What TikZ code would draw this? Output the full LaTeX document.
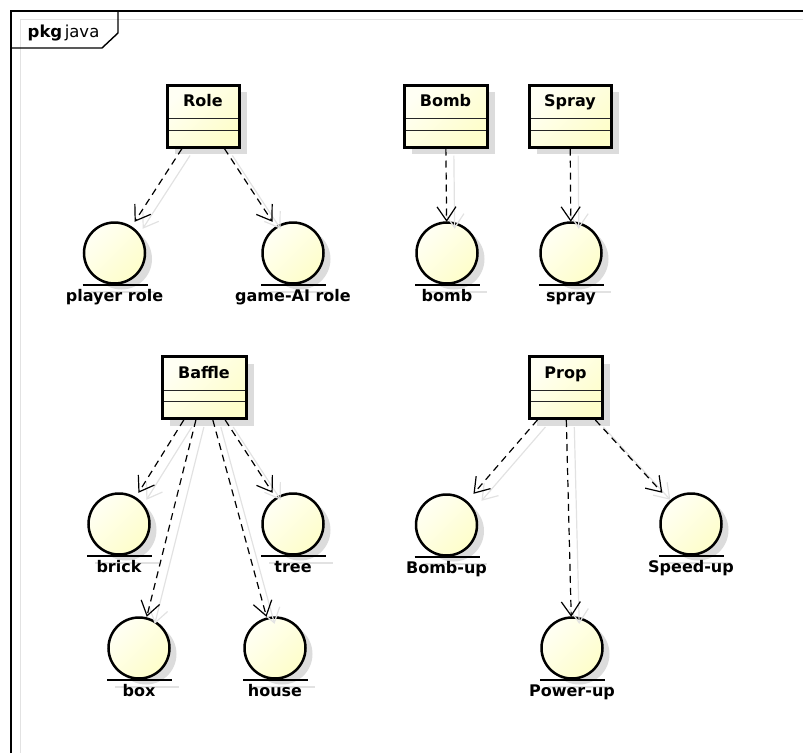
\documentclass[tikz,border=0pt]{standalone}
\usepackage{fontspec}
\setmainfont{DejaVu Sans}
\usetikzlibrary{arrows.meta,shadows}

\definecolor{ufill}{RGB}{254,254,202}
\definecolor{ulight}{RGB}{255,255,244}
\definecolor{bshade}{RGB}{220,220,220}
\definecolor{lshade}{RGB}{226,226,226}

\begin{document}
\begin{tikzpicture}[x=1pt,y=-1pt,
  labelfont/.style={font=\bfseries\fontsize{16}{19}\selectfont},
  cname/.style={labelfont, anchor=base, yshift=-23pt, inner sep=0pt},
  classbox/.style={draw, line width=3pt, inner sep=0pt, minimum height=62pt,
    top color=ulight, bottom color=ufill, shading angle=45,
    drop shadow={shadow xshift=8pt, shadow yshift=-7pt, fill=bshade, opacity=1},
    path picture={
      \draw[line width=1pt, black!85]
        ([yshift=-33.5pt]path picture bounding box.north west) --
        ([yshift=-33.5pt]path picture bounding box.north east);
      \draw[line width=1pt, black!85]
        ([yshift=-45pt]path picture bounding box.north west) --
        ([yshift=-45pt]path picture bounding box.north east);
    }},
  iface/.style={rectangle, draw=none, minimum size=62pt, inner sep=0pt},
  ilabel/.style={labelfont, anchor=base, inner sep=0pt},
  dep/.style={draw, line width=1.2pt, dash pattern=on 7pt off 5pt,
    -{Straight Barb[length=14pt,width=19pt,line width=1.2pt]}},
  depshadow/.style={draw=lshade, line width=1.2pt,
    -{Straight Barb[length=14pt,width=19pt,line width=1.2pt]},
    transform canvas={shift={(8pt,-7pt)}}}
]
\useasboundingbox (0,0) rectangle (803,753);

% package frame with its name tab
\draw[lshade, line width=1pt] (20,753) -- (20,19.5) -- (803,19.5);
\draw[line width=1.4pt] (11,753) -- (11,11) -- (803,11);
\draw[line width=1.4pt] (118,11) -- (118,33) -- (102,48) -- (11,48);
\node[anchor=base west, inner sep=0pt, font=\fontsize{16.5}{19}\selectfont]
  (pkg) at (27.5,37) {\textbf{pkg}\hspace{2.5pt}java};

% classes
\node[classbox, minimum width=72pt, label={[cname]north:Role}]   (Role)   at (203,116)   {};
\node[classbox, minimum width=83pt, label={[cname]north:Bomb}]   (Bomb)   at (445.5,116) {};
\node[classbox, minimum width=82pt, label={[cname]north:Spray}]  (Spray)  at (570,116)   {};
\node[classbox, minimum width=84pt, label={[cname]north:Baffle}] (Baffle) at (204,387.5) {};
\node[classbox, minimum width=73pt, label={[cname]north:Prop}]   (Prop)   at (565.5,387.5) {};

% entity icons
\node[iface] (plr) at (114.5,253) {};
\node[iface] (gai) at (293,253)   {};
\node[iface] (bmb) at (447,253)   {};
\node[iface] (spr) at (571,253)   {};
\node[iface] (brk) at (119,524)   {};
\node[iface] (tre) at (293,524)   {};
\node[iface] (bx)  at (139,648)   {};
\node[iface] (hse) at (275,648)   {};
\node[iface] (bup) at (446.5,525) {};
\node[iface] (sup) at (691,524)   {};
\node[iface] (pup) at (572,648)   {};

\foreach \n in {plr,gai,bmb,spr,brk,tre,bx,hse,bup,sup,pup}{
  \fill[bshade] ([shift={(7pt,-6pt)}]\n.center) circle (30.5pt);
  \draw[lshade, line width=2.4pt]
    ([shift={(-24pt,-39pt)}]\n.center) -- ([shift={(40pt,-39pt)}]\n.center);
  \draw[line width=2.5pt, top color=ulight, bottom color=ufill, shading angle=45]
    (\n.center) circle (30.5pt);
  \draw[line width=2.6pt]
    ([shift={(-32pt,-32pt)}]\n.center) -- ([shift={(33pt,-32pt)}]\n.center);
}

% entity names
\node[ilabel] (plr-t) at ([yshift=-48.5pt]plr.center) {player role};
\node[ilabel] (gai-t) at ([yshift=-48.5pt]gai.center) {game-AI role};
\node[ilabel] (bmb-t) at ([yshift=-48.5pt]bmb.center) {bomb};
\node[ilabel] (spr-t) at ([yshift=-48.5pt]spr.center) {spray};
\node[ilabel] (brk-t) at ([yshift=-48.5pt]brk.center) {brick};
\node[ilabel] (tre-t) at ([yshift=-48.5pt]tre.center) {tree};
\node[ilabel] (bx-t)  at ([yshift=-48.5pt]bx.center)  {box};
\node[ilabel] (hse-t) at ([yshift=-48.5pt]hse.center) {house};
\node[ilabel] (bup-t) at ([yshift=-48.5pt]bup.center) {Bomb-up};
\node[ilabel] (sup-t) at ([yshift=-48.5pt]sup.center) {Speed-up};
\node[ilabel] (pup-t) at ([yshift=-48.5pt]pup.center) {Power-up};

% dependencies: shadows first, then the dashed arrows
\foreach \a/\b in {Role/plr,Role/gai,Bomb/bmb,Spray/spr,
                   Baffle/brk,Baffle/bx,Baffle/hse,Baffle/tre,
                   Prop/bup,Prop/pup,Prop/sup}{
  \draw[depshadow] (\a) -- (\b);
}
\foreach \a/\b in {Role/plr,Role/gai,Bomb/bmb,Spray/spr,
                   Baffle/brk,Baffle/bx,Baffle/hse,Baffle/tre,
                   Prop/bup,Prop/pup,Prop/sup}{
  \draw[dep] (\a) -- (\b);
}
\end{tikzpicture}
\end{document}
